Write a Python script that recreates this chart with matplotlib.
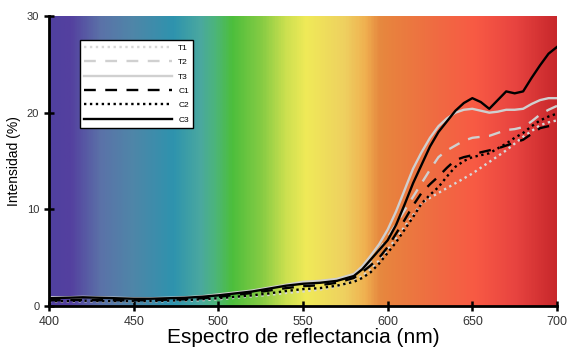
import numpy as np
import matplotlib
matplotlib.use("Agg")
import matplotlib.pyplot as plt
from matplotlib.colors import LinearSegmentedColormap

plt.rcParams['font.family'] = ['Liberation Sans', 'DejaVu Sans']

# wavelengths (nm)
wavelength = list(range(400, 580, 10)) + list(range(580, 705, 5))

T1 = [0.45, 0.45, 0.5, 0.45, 0.45, 0.45, 0.45, 0.5, 0.55, 0.6, 0.7, 0.85, 1.0, 1.15, 1.35, 1.5, 1.7, 2.0,
      2.6, 3.1, 3.8, 4.7, 5.8, 7.0, 8.2, 9.4, 10.6, 11.2, 11.7, 12.2, 12.7, 13.2, 13.7, 14.3, 14.9, 15.5,
      16.1, 16.8, 17.5, 18.1, 18.7, 19.0, 19.2]
T2 = [0.7, 0.7, 0.75, 0.7, 0.7, 0.65, 0.7, 0.75, 0.8, 0.9, 1.05, 1.25, 1.45, 1.7, 2.0, 2.2, 2.3, 2.5,
      3.0, 3.7, 4.6, 5.8, 7.1, 8.5, 9.9, 11.3, 12.7, 14.1, 15.4, 16.1, 16.6, 17.1, 17.4, 17.5, 17.6, 17.9,
      18.2, 18.3, 18.5, 19.1, 19.8, 20.3, 20.7]
T3 = [0.9, 0.9, 0.95, 0.9, 0.85, 0.8, 0.8, 0.85, 0.9, 1.0, 1.2, 1.4, 1.6, 1.9, 2.2, 2.5, 2.6, 2.8,
      3.3, 4.1, 5.2, 6.4, 7.9, 9.8, 12.0, 14.2, 15.9, 17.4, 18.6, 19.4, 20.0, 20.3, 20.4, 20.2, 20.0, 20.1,
      20.3, 20.3, 20.4, 20.9, 21.3, 21.5, 21.5]
C1 = [0.6, 0.6, 0.65, 0.6, 0.6, 0.6, 0.6, 0.65, 0.7, 0.8, 0.95, 1.15, 1.35, 1.6, 1.85, 2.05, 2.15, 2.4,
      2.9, 3.5, 4.2, 5.0, 6.1, 7.5, 8.9, 10.4, 11.7, 12.6, 13.4, 14.3, 15.1, 15.4, 15.6, 15.9, 16.1, 16.3,
      16.6, 16.9, 17.2, 17.8, 18.4, 18.6, 18.7]
C2 = [0.5, 0.5, 0.55, 0.5, 0.5, 0.5, 0.5, 0.55, 0.6, 0.7, 0.8, 0.95, 1.1, 1.3, 1.55, 1.75, 1.85, 2.1,
      2.5, 2.9, 3.5, 4.4, 5.5, 6.6, 7.9, 9.2, 10.6, 11.5, 12.3, 13.4, 14.4, 15.0, 15.4, 15.6, 15.8, 16.3,
      16.8, 17.4, 17.9, 18.6, 19.2, 19.6, 19.9]
C3 = [0.8, 0.85, 0.9, 0.85, 0.8, 0.75, 0.75, 0.8, 0.85, 0.95, 1.1, 1.3, 1.5, 1.8, 2.1, 2.3, 2.4, 2.6,
      3.1, 3.8, 4.8, 5.8, 6.8, 8.4, 10.5, 12.7, 14.6, 16.5, 18.0, 19.1, 20.2, 21.0, 21.5, 21.1, 20.4, 21.3,
      22.2, 22.0, 22.2, 23.6, 24.9, 26.1, 26.8]

# background spectrum stops (nm, colour)
spec_nm = [400, 412, 430, 449, 473, 489, 498, 508, 526, 540, 552, 575, 587, 595, 600, 630, 652, 676, 700]
spec_col = ['#5040A0', '#54409F', '#5B72A8', '#4F86A8', '#2E93AE', '#4AA8A0', '#4CB57A', '#4CBE3C',
            '#88CC44', '#CCE050', '#F0EA58', '#EED060', '#F0B050', '#E68A40', '#E8843E', '#F06A42',
            '#F85A44', '#E84440', '#C8282C']

fig = plt.figure(figsize=(5.77, 3.49), dpi=100)
ax = fig.add_axes([49/577, 43/349, 508/577, 290/349])

pos = [(v - 400) / 300 for v in spec_nm]
cmap = LinearSegmentedColormap.from_list('spec', list(zip(pos, spec_col)))
grad = np.linspace(0, 1, 600)[None, :]
ax.imshow(grad, extent=[400, 700, 0, 30], aspect='auto', cmap=cmap, origin='lower', zorder=0)

lw = 1.7
ax.plot(wavelength, T1, color='#d8d8d8', lw=lw, ls=(0, (1, 1.5)), label='T1')
ax.plot(wavelength, T2, color='#d0d0d0', lw=lw, ls=(0, (5, 4)), label='T2')
ax.plot(wavelength, T3, color='#d0d0d0', lw=lw, ls='-', label='T3')
ax.plot(wavelength, C1, color='black', lw=lw, ls=(0, (5, 4)), label='C1')
ax.plot(wavelength, C2, color='black', lw=lw, ls=(0, (1, 1.5)), label='C2')
ax.plot(wavelength, C3, color='black', lw=lw, ls='-', label='C3')

ax.set_xlim(400, 700)
ax.set_ylim(0, 30)
ax.set_xticks([400, 450, 500, 550, 600, 650, 700])
ax.set_yticks([0, 10, 20, 30])
for s in ['top', 'right']:
    ax.spines[s].set_visible(False)
for s in ['left', 'bottom']:
    ax.spines[s].set_linewidth(2)
ax.tick_params(direction='inout', length=7, width=1.8, labelsize=9, colors='black',
               labelcolor='#333333')
ax.tick_params(axis='x', pad=4)
ax.tick_params(axis='y', labelsize=8)
ax.set_xlabel('Espectro de reflectancia (nm)', fontsize=15, labelpad=0)
ax.set_ylabel('Intensidad (%)', fontsize=10, labelpad=4)

leg = ax.legend(loc='upper left', bbox_to_anchor=(31/508, 1 - 24/290), fontsize=6,
                handlelength=10.5, frameon=True, fancybox=False, framealpha=1,
                edgecolor='black', labelspacing=0.78, borderpad=0.5,
                handletextpad=0.8, borderaxespad=0)
leg.get_frame().set_linewidth(1)

fig.savefig('out.png', dpi=100)
